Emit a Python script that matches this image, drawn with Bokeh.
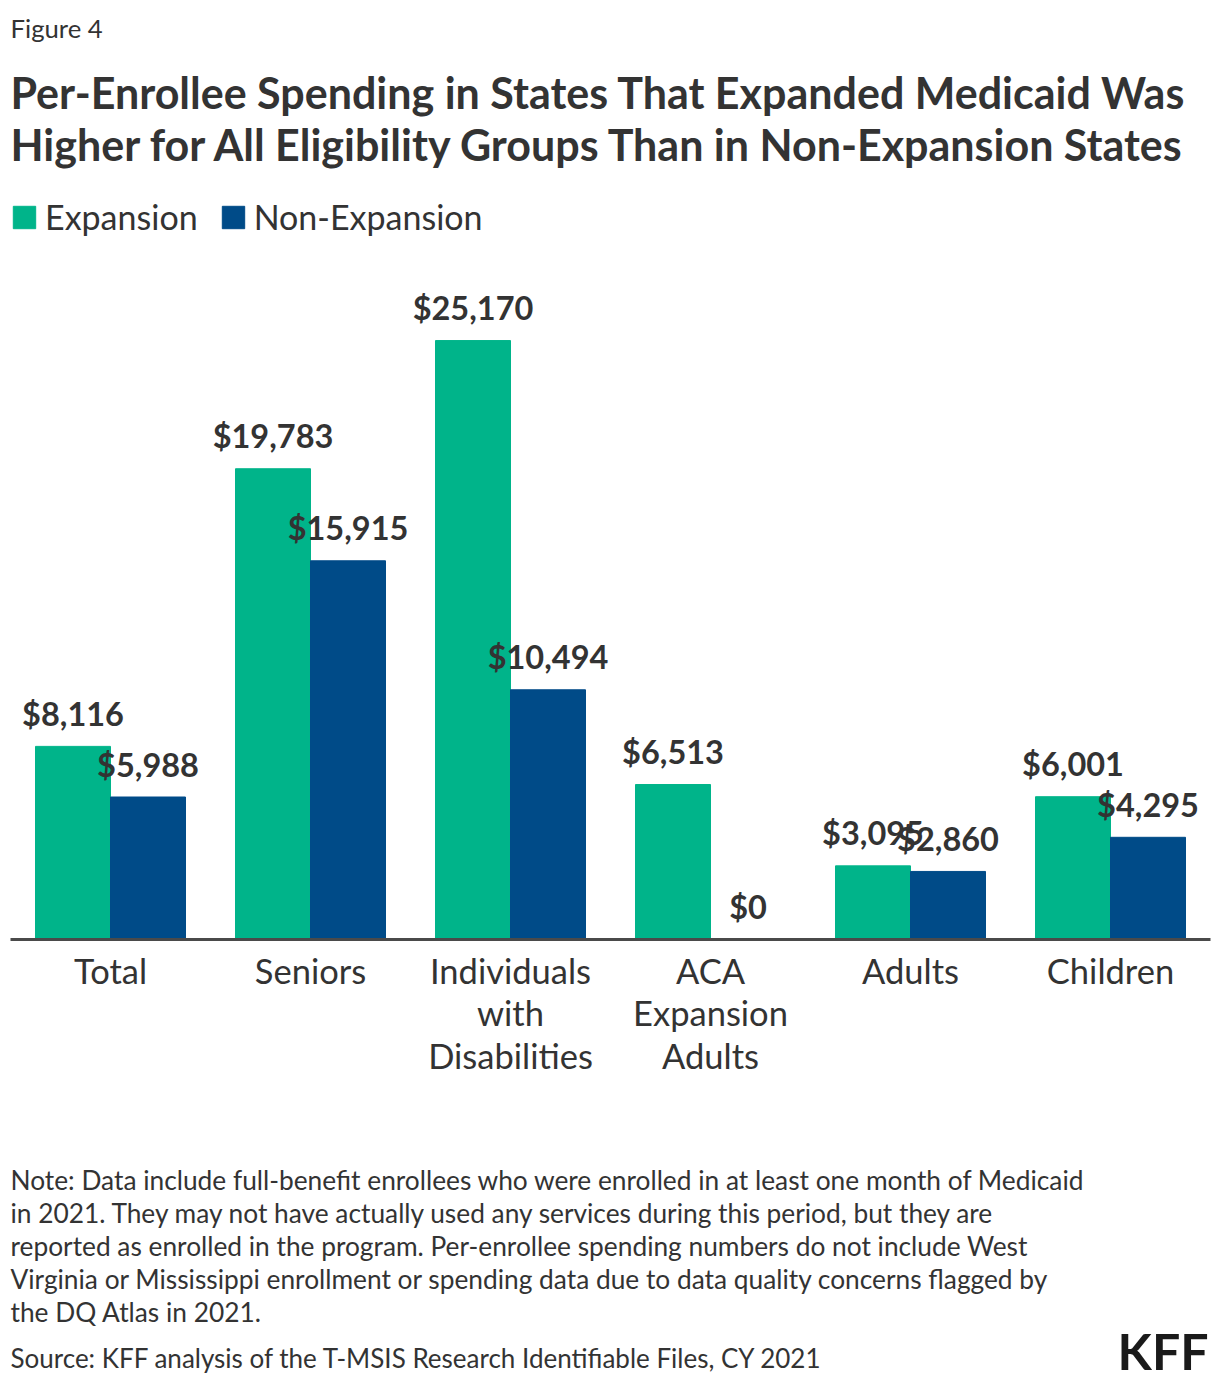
from bokeh.plotting import figure
from bokeh.models import (ColumnDataSource, FactorRange, Range1d, Label, Legend,
                          LegendItem)
from bokeh.transform import dodge
from bokeh.core.properties import value
from bokeh.embed import file_html
from bokeh.resources import INLINE

# ---- data ----
categories = ["Total", "Seniors", "Individuals with Disabilities",
              "ACA Expansion Adults", "Adults", "Children"]
category_labels = ["Total", "Seniors", "Individuals\nwith\nDisabilities",
                   "ACA\nExpansion\nAdults", "Adults", "Children"]
expansion = [8116, 19783, 25170, 6513, 3095, 6001]
non_expansion = [5988, 15915, 10494, 0, 2860, 4295]
series_names = ["Expansion", "Non-Expansion"]

title_lines = ["Per-Enrollee Spending in States That Expanded Medicaid Was",
               "Higher for All Eligibility Groups Than in Non-Expansion States"]
note_lines = [
    "Note: Data include full-benefit enrollees who were enrolled in at least one month of Medicaid",
    "in 2021. They may not have actually used any services during this period, but they are",
    "reported as enrolled in the program. Per-enrollee spending numbers do not include West",
    "Virginia or Mississippi enrollment or spending data due to data quality concerns flagged by",
    "the DQ Atlas in 2021.",
]
source_line = "Source: KFF analysis of the T-MSIS Research Identifiable Files, CY 2021"

# ---- style ----
W, H = 1220, 1384
FONT = "Lato"
TXT = "#333333"
GREEN = "#00B48A"
BLUE = "#004B88"

src = ColumnDataSource(dict(
    cat=categories,
    lab=category_labels,
    exp=expansion,
    non=non_expansion,
    exp_lbl=[f"${v:,}" for v in expansion],
    non_lbl=[f"${v:,}" for v in non_expansion],
))

p = figure(width=W, height=H, output_backend="svg", toolbar_location=None,
           x_range=FactorRange(factors=categories, range_padding=0.05,
                               range_padding_units="absolute"),
           y_range=Range1d(-18700, 39460),
           x_axis_type=None, y_axis_type=None, min_border=0)
p.title.visible = False
p.outline_line_color = None
p.xgrid.visible = False
p.ygrid.visible = False
p.background_fill_color = "white"
p.border_fill_color = "white"

r1 = p.vbar(x=dodge("cat", -0.1875, range=p.x_range), top="exp", bottom=0,
            width=0.375, source=src, fill_color=GREEN, line_color=GREEN)
r2 = p.vbar(x=dodge("cat", 0.1875, range=p.x_range), top="non", bottom=0,
            width=0.375, source=src, fill_color=BLUE, line_color=BLUE)

# baseline
base = ColumnDataSource(dict(c0=[categories[0]], c1=[categories[-1]], y=[0]))
p.segment(x0=dodge("c0", -0.5, range=p.x_range), x1=dodge("c1", 0.5, range=p.x_range),
          y0="y", y1="y", source=base, line_color="#4a4a4a", line_width=3)

# value labels
for col, off in (("exp", -0.1875), ("non", 0.1875)):
    p.text(x=dodge("cat", off, range=p.x_range), y=col, text=col + "_lbl", source=src,
           text_align="center", text_baseline="middle", y_offset=-33,
           text_font=value(FONT), text_font_style="bold", text_font_size="32.5px",
           text_color=TXT)

# category labels
p.text(x="cat", y=0, text="lab", source=src, text_align="center",
       text_baseline="top", y_offset=10, text_font=value(FONT),
       text_font_size="34.5px", text_color=TXT, text_line_height=1.04)

def lab(text, x, center_px, size, bold=False, align="left", color=TXT):
    p.add_layout(Label(x=x, y=H - center_px, x_units="screen", y_units="screen",
                       text=text, text_font=FONT, text_font_size=size,
                       text_font_style="bold" if bold else "normal",
                       text_color=color, text_align=align,
                       text_baseline="middle"))

lab("Figure 4", 10, 27, "25.7px")
lab(title_lines[0], 10, 92, "43px", bold=True)
lab(title_lines[1], 10, 144, "43px", bold=True)
for i, line in enumerate(note_lines):
    lab(line, 10, 1179 + i * 33.2, "26.3px")
lab(source_line, 10, 1357, "26px")
lab("KFF", 1208, 1350, "50px", bold=True, align="right", color="#1a1a1a")

legend = Legend(items=[LegendItem(label=series_names[0], renderers=[r1]),
                       LegendItem(label=series_names[1], renderers=[r2])],
                orientation="horizontal", location=(10, H - 237),
                glyph_width=28, glyph_height=28, label_standoff=7, spacing=21,
                padding=0, margin=0, border_line_alpha=0, background_fill_alpha=0,
                label_text_font=FONT, label_text_font_size="34px",
                label_text_color=TXT, label_height=28)
p.add_layout(legend, "center")

open("out.html", "w").write(file_html(p, INLINE))
